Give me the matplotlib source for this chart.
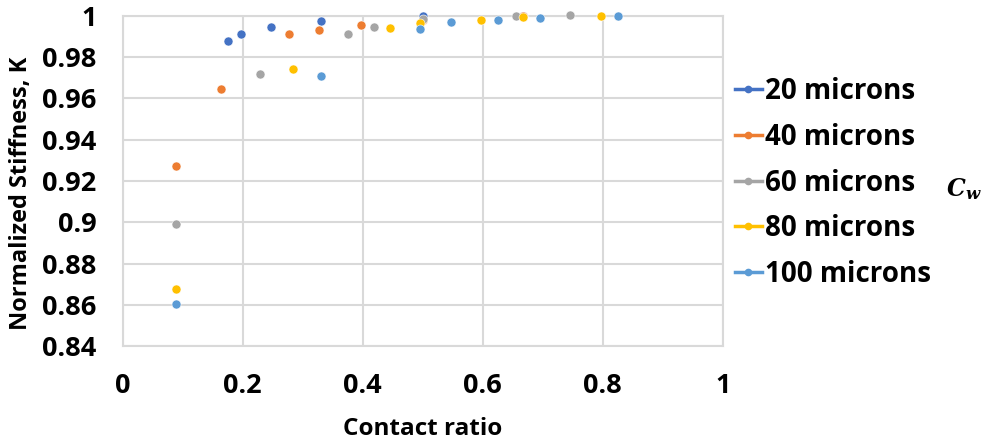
import matplotlib.pyplot as plt
from matplotlib.lines import Line2D

plt.rcParams['font.family'] = ['Open Sans', 'DejaVu Sans']
plt.rcParams['font.weight'] = 'bold'

labels = ['20 microns', '40 microns', '60 microns', '80 microns', '100 microns']
colors = ['#4472C4', '#ED7D31', '#A5A5A5', '#FFC000', '#5B9BD5']

x20 = [0.175, 0.197, 0.247, 0.33, 0.5, 0.667]
y20 = [0.988, 0.991, 0.9948, 0.9976, 1.0, 1.0]

x40 = [0.088, 0.164, 0.277, 0.327, 0.397, 0.5, 0.667]
y40 = [0.9273, 0.9646, 0.991, 0.9933, 0.9957, 0.998, 1.0]

x60 = [0.088, 0.228, 0.376, 0.418, 0.5, 0.655, 0.745]
y60 = [0.8993, 0.9717, 0.9914, 0.9945, 0.9985, 1.0, 1.0002]

x80 = [0.088, 0.283, 0.446, 0.495, 0.597, 0.667, 0.797]
y80 = [0.8678, 0.9742, 0.9939, 0.9966, 0.9982, 0.9994, 1.0]

x100 = [0.088, 0.331, 0.495, 0.547, 0.626, 0.696, 0.826]
y100 = [0.8602, 0.9711, 0.9937, 0.9969, 0.9982, 0.9992, 1.0]

xs = [x20, x40, x60, x80, x100]
ys = [y20, y40, y60, y80, y100]

fig = plt.figure(figsize=(9.9, 4.41), dpi=100)
ax = fig.add_axes([0.124, 0.215, 0.606, 0.749])

for x, y, c in zip(xs, ys, colors):
    ax.plot(x, y, 'o', color=c, ms=6.5, mec='white', mew=0.4, clip_on=False, zorder=3)

ax.set_xlim(0, 1)
ax.set_ylim(0.84, 1.0)
ax.set_xticks([0, 0.2, 0.4, 0.6, 0.8, 1])
ax.set_xticklabels(['0', '0.2', '0.4', '0.6', '0.8', '1'])
ax.set_yticks([0.84, 0.86, 0.88, 0.9, 0.92, 0.94, 0.96, 0.98, 1.0])
ax.set_yticklabels(['0.84', '0.86', '0.88', '0.9', '0.92', '0.94', '0.96', '0.98', '1'])
ax.grid(True, color='#d9d9d9', lw=1.5)
ax.set_axisbelow(True)
for s in ax.spines.values():
    s.set_color('#d9d9d9')
    s.set_linewidth(1.5)
ax.tick_params(length=0, labelsize=19.5)
ax.tick_params(axis='y', pad=19)
ax.tick_params(axis='x', pad=19)

ax.set_xlabel('Contact ratio', fontsize=17.5, fontweight='bold')
ax.xaxis.set_label_coords(0.5, -0.215)
ax.set_ylabel('Normalized Stiffness, K', fontsize=17, fontweight='bold')
ax.yaxis.set_label_coords(-0.15, 0.464)

handles = [Line2D([0], [0], color=c, lw=2.5, marker='o', ms=4.5) for c in colors]
fig.legend(handles, labels, loc='center left', bbox_to_anchor=(0.742, 0.585),
           frameon=False, fontsize=20, handlelength=1.0, handletextpad=0.1,
           labelspacing=0.6, borderaxespad=0, borderpad=0)

fig.text(0.956, 0.57, r'$\mathbfit{C_w}$', math_fontfamily='dejavuserif', fontsize=17,
         ha='left', va='center')

fig.savefig('out.png', dpi=100)
